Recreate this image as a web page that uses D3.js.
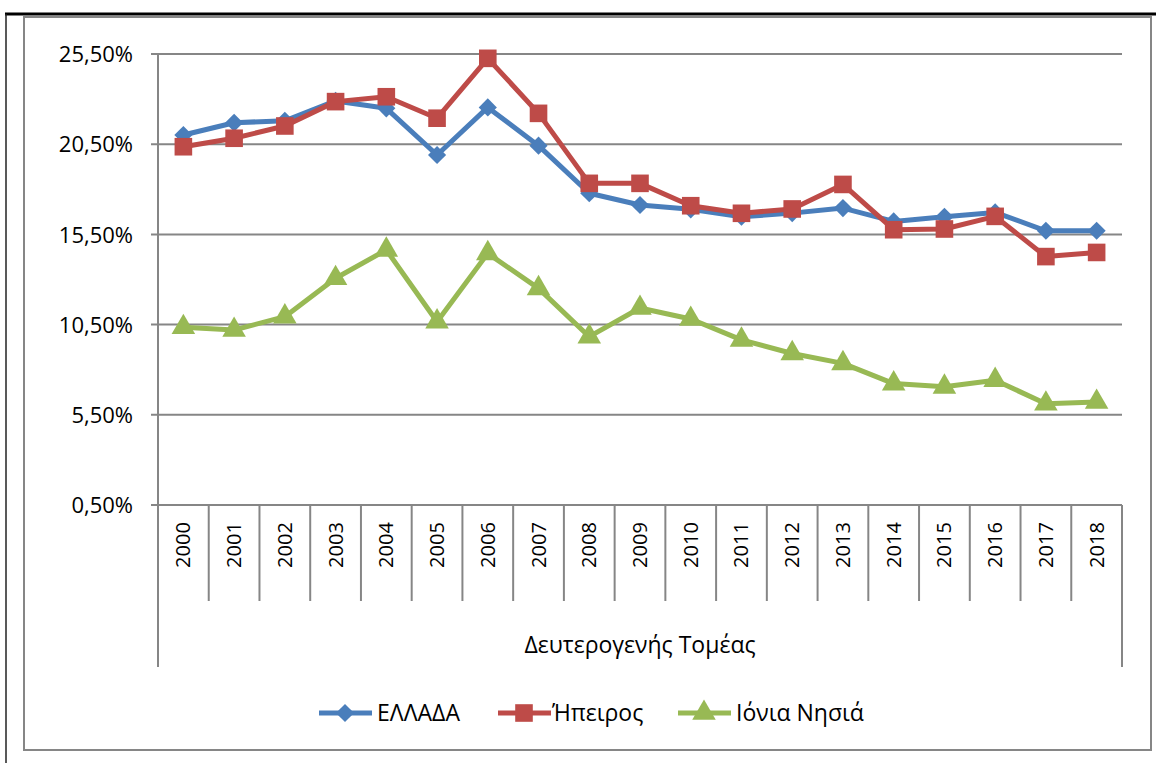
<!DOCTYPE html>
<html>
<head>
<meta charset="utf-8">
<script src="https://cdnjs.cloudflare.com/ajax/libs/d3/7.8.5/d3.min.js"></script>
<style>
  body { margin: 0; background: #fff; }
  svg { display: block; font-family: "Open Sans", "Noto Sans", sans-serif; }
</style>
</head>
<body>
<div id="chart"></div>
<script>
// data
var years = ["2000","2001","2002","2003","2004","2005","2006","2007","2008","2009",
             "2010","2011","2012","2013","2014","2015","2016","2017","2018"];
var ellada = [21.01, 21.69, 21.80, 22.90, 22.49, 19.90, 22.54, 20.42, 17.78, 17.13,
              16.89, 16.48, 16.68, 16.96, 16.22, 16.48, 16.72, 15.70, 15.70];
var ipeiros = [20.36, 20.83, 21.51, 22.86, 23.13, 21.94, 25.26, 22.21, 18.33, 18.33,
               17.09, 16.67, 16.91, 18.27, 15.76, 15.80, 16.50, 14.27, 14.50];
var ionia = [10.35, 10.20, 10.94, 13.07, 14.64, 10.66, 14.45, 12.51, 9.83, 11.42,
             10.81, 9.65, 8.90, 8.35, 7.23, 7.05, 7.42, 6.11, 6.21];
var yTicks = [0.5, 5.5, 10.5, 15.5, 20.5, 25.5];
var groupLabel = "Δευτερογενής Τομέας";

var series = [
  { name: "ΕΛΛΑΔΑ", values: ellada, color: "#4A7EBB", marker: d3.symbolDiamond2, size: 210 },
  { name: "Ήπειρος", values: ipeiros, color: "#BE4B48", marker: d3.symbolSquare, size: 310 },
  { name: "Ιόνια Νησιά", values: ionia, color: "#98B954", marker: d3.symbolTriangle, size: 240 }
];

var W = 1156, H = 763;
var svg = d3.select("#chart").append("svg").attr("width", W).attr("height", H);

// outer frames
svg.append("line").attr("x1", 5).attr("x2", W).attr("y1", 14).attr("y2", 14)
  .attr("stroke", "#000").attr("stroke-width", 3);
svg.append("line").attr("x1", 6).attr("x2", 6).attr("y1", 14).attr("y2", H)
  .attr("stroke", "#222").attr("stroke-width", 1.5);
svg.append("rect").attr("x", 24).attr("y", 17).attr("width", 1127).attr("height", 733)
  .attr("fill", "#fff").attr("stroke", "#868686").attr("stroke-width", 2);

var plotLeft = 158, plotRight = 1122, plotTop = 54, plotBottom = 505;

var x = d3.scaleBand().domain(years).range([plotLeft, plotRight]);
var y = d3.scaleLinear().domain([0.5, 25.5]).range([plotBottom, plotTop]);

// gridlines
svg.append("g").selectAll("line").data(yTicks).join("line")
  .attr("x1", plotLeft - 7).attr("x2", plotRight)
  .attr("y1", d => y(d)).attr("y2", d => y(d))
  .attr("stroke", "#868686").attr("stroke-width", 2);

// y axis
var yAxis = d3.axisLeft(y).tickValues(yTicks).tickSize(0).tickPadding(25)
  .tickFormat(d => d3.format(".2f")(d).replace(".", ",") + "%");
var gy = svg.append("g").attr("transform", "translate(" + plotLeft + ",0)").call(yAxis)
  .attr("font-family", null).attr("font-size", null);
gy.select(".domain").remove();
gy.selectAll("text").attr("font-size", 22).attr("fill", "#000").attr("dy", "0.35em");
svg.append("line").attr("x1", plotLeft).attr("x2", plotLeft).attr("y1", plotTop).attr("y2", 667)
  .attr("stroke", "#868686").attr("stroke-width", 2);
svg.append("line").attr("x1", plotRight).attr("x2", plotRight).attr("y1", plotBottom).attr("y2", 667)
  .attr("stroke", "#868686").attr("stroke-width", 2);

// category separators
svg.append("g").selectAll("line").data(years.slice(1)).join("line")
  .attr("x1", d => x(d)).attr("x2", d => x(d))
  .attr("y1", plotBottom).attr("y2", 601)
  .attr("stroke", "#868686").attr("stroke-width", 2);

// year labels
svg.append("g").selectAll("text").data(years).join("text")
  .attr("transform", d => "translate(" + (x(d) + x.bandwidth() / 2 + 7) + ",545) rotate(-90)")
  .attr("text-anchor", "middle")
  .attr("font-size", 20)
  .text(d => d);

svg.append("text").attr("x", (plotLeft + plotRight) / 2).attr("y", 653)
  .attr("text-anchor", "middle").attr("font-size", 23).text(groupLabel);

// lines and markers
var line = d3.line().x((d, i) => x(years[i]) + x.bandwidth() / 2).y(d => y(d));

series.forEach(function (s) {
  svg.append("path").datum(s.values)
    .attr("fill", "none").attr("stroke", s.color).attr("stroke-width", 5)
    .attr("stroke-linejoin", "round").attr("d", line);
  svg.append("g").selectAll("path").data(s.values).join("path")
    .attr("transform", (d, i) => "translate(" + (x(years[i]) + x.bandwidth() / 2) + "," + y(d) + ")")
    .attr("d", d3.symbol().type(s.marker).size(s.size))
    .attr("fill", s.color);
});

// legend
var legendX = [319, 498, 678];
var lg = svg.append("g").selectAll("g").data(series).join("g")
  .attr("transform", (d, i) => "translate(" + legendX[i] + ",713)");
lg.append("line").attr("x1", 0).attr("x2", 53).attr("y1", 0).attr("y2", 0)
  .attr("stroke", d => d.color).attr("stroke-width", 5);
lg.append("path").attr("transform", "translate(26,0)")
  .attr("d", d => d3.symbol().type(d.marker).size(d.size)())
  .attr("fill", d => d.color);
lg.append("text").attr("x", (d, i) => i === 1 ? 54 : 58).attr("y", 8).attr("font-size", 23).text(d => d.name);
</script>
</body>
</html>
